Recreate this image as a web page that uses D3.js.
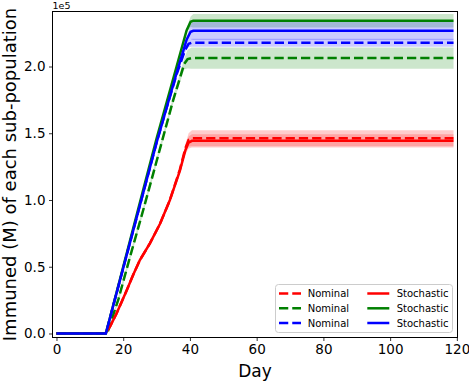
<!DOCTYPE html>
<html><head><meta charset="utf-8">
<script src="https://cdn.jsdelivr.net/npm/d3@7/dist/d3.min.js"></script>
<style>body{margin:0;background:#fff}svg{display:block;font-family:"DejaVu Sans",sans-serif}</style>
</head><body><svg id="c" width="469" height="381"></svg>
<script>
// Each point: [day, value, band half-width]
const nomRed = [[0,0,0],[14.6,0,0],[16,5000,1500],[18,15000,1500],[21,32000,1500],[23,44000,1500],[25,55000,1500],[28,67500,1500],[31,82000,1500],[34,100000,1500],[37,123000,1500],[38.6,138500,3000],[39.6,145000,5000],[40.6,146300,6000],[119,146300,6000]];
const stoRed = [[0,0,0],[14.6,0,0],[16,5000,1500],[18,15000,1500],[21,32000,1500],[23,44000,1500],[25,55000,1500],[28,67500,1500],[31,82000,1500],[34,100000,1500],[37,122000,1500],[38.6,137000,3000],[39.6,143000,4500],[40.6,144300,5000],[119,144300,5000]];
const nomGreen = [[0,0,0],[15.2,0,0],[18.6,26000,2500],[22,57000,2500],[26,92500,2500],[30,129000,2500],[35,175000,2500],[38.3,202000,4000],[39.3,205500,7000],[40.5,206300,8000],[119,206300,8000]];
const stoGreen = [[0,0,0],[14.8,0,0],[20,50000,600],[25,98000,600],[30,146000,600],[33,173000,600],[36,200000,600],[39,227000,1500],[40.2,233500,4000],[41,234300,5000],[119,234300,5000]];
const nomBlue = [[0,0,0],[14.8,0,0],[20,49000,500],[25,96000,500],[30,143000,500],[33,169000,500],[36,194000,500],[38.5,212000,1500],[39.6,217000,2500],[40.5,217800,3000],[119,217800,3000]];
const stoBlue = [[0,0,0],[14.8,0,0],[20,49000,600],[25,96000,600],[30,143000,600],[33,169000,600],[36,195000,600],[39,220000,2000],[40.2,226000,5500],[41,226800,7000],[119,226800,7000]];
const xTicks = [0,20,40,60,80,100,120];
const yTicks = [0,50000,100000,150000,200000];
const seriesNames = ["Nominal","Stochastic"];

const colors = {red:"#ff0000", green:"#008000", blue:"#0000ff"};
const series = [
  {data:nomRed, color:colors.red, dash:true, name:seriesNames[0]},
  {data:nomGreen, color:colors.green, dash:true, name:seriesNames[0]},
  {data:nomBlue, color:colors.blue, dash:true, name:seriesNames[0]},
  {data:stoRed, color:colors.red, dash:false, name:seriesNames[1]},
  {data:stoGreen, color:colors.green, dash:false, name:seriesNames[1]},
  {data:stoBlue, color:colors.blue, dash:false, name:seriesNames[1]}
];

const svg = d3.select("#c");
const L=52.5, R=457.5, T=11.5, B=337.5;
const x = d3.scaleLinear().domain([-1.19,120.19]).range([L,R]);
const y = d3.scaleLinear().domain([-3000,241200]).range([B,T]);

// bands
const area = d3.area().x(d=>x(d[0])).y0(d=>y(d[1]-d[2])).y1(d=>y(d[1]+d[2]));
series.forEach(s=>{
  svg.append("path").attr("d",area(s.data)).attr("fill",s.color).attr("fill-opacity",0.2).attr("stroke","none");
});
// lines
const line = d3.line().x(d=>x(d[0])).y(d=>y(d[1]));
series.forEach(s=>{
  svg.append("path").attr("d",line(s.data)).attr("fill","none").attr("stroke",s.color)
    .attr("stroke-width",2.5).attr("stroke-dasharray",s.dash?"9.25,4":null);
});

// frame
svg.append("rect").attr("x",L).attr("y",T).attr("width",R-L).attr("height",B-T)
  .attr("fill","none").attr("stroke","#000").attr("stroke-width",1);

// axes
const xAxis = svg.append("g").attr("transform",`translate(0,${B})`)
  .call(d3.axisBottom(x).tickValues(xTicks).tickSize(3.5).tickPadding(3.5).tickFormat(d3.format("d")));
const yAxis = svg.append("g").attr("transform",`translate(${L},0)`)
  .call(d3.axisLeft(y).tickValues(yTicks).tickSize(3.5).tickPadding(3.5).tickFormat(d=>(d/1e5).toFixed(1)));
[xAxis,yAxis].forEach(g=>{
  g.select(".domain").remove();
  g.selectAll("text").attr("font-size",13.5).attr("font-family","DejaVu Sans").attr("fill","#000");
  g.selectAll("line").attr("stroke","#000").attr("stroke-width",0.8);
});

svg.append("text").attr("x",L).attr("y",8.5).attr("font-size",9.5).text("1e5");
svg.append("text").attr("x",(L+R)/2).attr("y",377).attr("text-anchor","middle").attr("font-size",17).text("Day");
svg.append("text").attr("transform",`translate(16,${(T+B)/2}) rotate(-90)`).attr("text-anchor","middle")
  .attr("font-size",18).text("Immuned (M) of each sub-population");

// legend
const lg = svg.append("g");
lg.append("rect").attr("x",275.5).attr("y",284.5).attr("width",177).attr("height",48).attr("rx",3)
  .attr("fill","#fff").attr("fill-opacity",0.8).attr("stroke","#cccccc").attr("stroke-width",1);
const rowsY=[293.5,308.3,323];
series.forEach((s,i)=>{
  const col = s.dash?0:1, row=i%3;
  const hx = col===0?279:367.3;
  const g = lg.append("g");
  g.append("line").attr("x1",hx).attr("x2",hx+22).attr("y1",rowsY[row]).attr("y2",rowsY[row])
    .attr("stroke",s.color).attr("stroke-width",2.5).attr("stroke-dasharray",s.dash?"9.25,4":null);
  g.append("text").attr("x",col===0?307.7:396.7).attr("y",rowsY[row]+3.6).attr("font-size",10).text(s.name);
});
</script></body></html>
